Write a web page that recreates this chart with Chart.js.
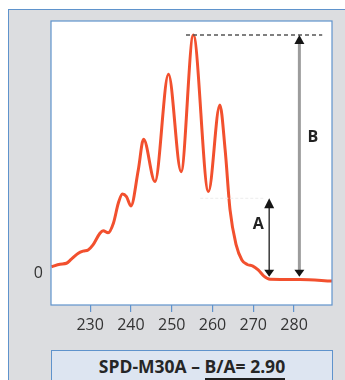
<!DOCTYPE html>
<html>
<head>
<meta charset="utf-8">
<script src="https://cdn.jsdelivr.net/npm/chart.js@4.4.0/dist/chart.umd.min.js"></script>
<style>
  body { margin: 0; background: #fff; overflow: hidden; width: 345px; height: 380px; position: relative; font-family: "Open Sans", sans-serif; }
  #panel { position: absolute; left: 8px; top: 9px; width: 400px; height: 400px; background: #dcdde0; border: 1px solid #5f93cc; }
  #grafico { position: absolute; left: 0; top: 0; }
  #legenda { position: absolute; left: 51px; top: 350px; width: 280px; height: 40px; background: #dde5f1; border: 1px solid #5f93cc;
             text-align: center; font-weight: bold; font-size: 17.5px; line-height: 30px; color: #262626; }
  #legenda span { border-bottom: 2px solid #1e1e1e; }
</style>
</head>
<body>
<div id="panel"></div>
<canvas id="grafico" width="345" height="380"></canvas>
<div id="legenda">SPD-M30A – <span>B/A= 2.90</span></div>
<script>
// Dados do espectro (comprimento de onda x absorbancia relativa)
const comprimentoOnda = [220.5, 222.6, 224.2, 225.4, 227.1, 228.3, 229.5, 230.7, 232.4, 233.2, 234.4, 235.7, 236.9, 237.9, 238.9, 240.0, 241.8, 243.1, 245.9, 249.2, 252.3, 255.3, 259.0, 261.8, 263.1, 264.3, 265.8, 267.2, 268.5, 269.9, 271.2, 272.6, 274.1, 281.5, 289.3];
const absorbancia = [2.6, 3.7, 4.1, 5.8, 8.3, 9.2, 9.7, 11.8, 16.7, 17.8, 16.9, 20.9, 29.3, 33.2, 32.1, 28.2, 43.3, 56.2, 38.4, 83.5, 42.6, 100, 34.2, 70.6, 51.7, 26.5, 11.8, 5.5, 3.6, 2.9, 1.3, -1.3, -2.6, -2.7, -3.4];
const ticksX = [230, 240, 250, 260, 270, 280];
const ticksY = [0];

// Setas A e B (em unidades do grafico)
const setaA = { x: 273.9, topo: 31.4, base: -1.6 };
const setaB = { x: 281.3, topo: 100, base: -1.6 };
const linhaPico = { inicio: 253.5, fim: 286.9, y: 100 };
const linhaA = { inicio: 257.0, fim: 272.9, y: 31.4 };
const rotuloA = { x: 271.2, y: 20.2, texto: 'A' };
const rotuloB = { x: 284.6, y: 57, texto: 'B' };

function desenharSeta(ctx, x, yTopo, yBase, cor, largura, alturaTopo, alturaBase) {
    ctx.save();
    ctx.strokeStyle = cor;
    ctx.lineWidth = largura;
    ctx.beginPath();
    ctx.moveTo(x, yTopo + 4);
    ctx.lineTo(x, yBase - 3);
    ctx.stroke();
    ctx.fillStyle = '#151515';
    ctx.beginPath();
    ctx.moveTo(x, yTopo);
    ctx.lineTo(x - 5, yTopo + alturaTopo);
    ctx.lineTo(x + 5, yTopo + alturaTopo);
    ctx.closePath();
    ctx.fill();
    ctx.beginPath();
    ctx.moveTo(x, yBase);
    ctx.lineTo(x - 5, yBase - alturaBase);
    ctx.lineTo(x + 5, yBase - alturaBase);
    ctx.closePath();
    ctx.fill();
    ctx.restore();
}

const pluginMoldura = {
    id: 'moldura',
    beforeDraw(chart) {
        const { ctx, chartArea: a } = chart;
        ctx.save();
        ctx.fillStyle = '#ffffff';
        ctx.fillRect(a.left, a.top, a.right - a.left, a.bottom - a.top);
        ctx.restore();
    },
    afterDatasetsDraw(chart) {
        const { ctx, chartArea: a, scales } = chart;
        const sx = scales.x, sy = scales.y;
        ctx.save();
        // linha pontilhada clara do nivel A
        ctx.strokeStyle = '#ececec';
        ctx.lineWidth = 1;
        ctx.setLineDash([3, 2]);
        ctx.beginPath();
        ctx.moveTo(sx.getPixelForValue(linhaA.inicio), sy.getPixelForValue(linhaA.y));
        ctx.lineTo(sx.getPixelForValue(linhaA.fim), sy.getPixelForValue(linhaA.y));
        ctx.stroke();
        // linha tracejada do pico
        ctx.strokeStyle = '#555';
        ctx.lineWidth = 1.6;
        ctx.setLineDash([4, 3]);
        ctx.beginPath();
        ctx.moveTo(sx.getPixelForValue(linhaPico.inicio), sy.getPixelForValue(linhaPico.y));
        ctx.lineTo(sx.getPixelForValue(linhaPico.fim), sy.getPixelForValue(linhaPico.y));
        ctx.stroke();
        ctx.setLineDash([]);
        ctx.restore();

        desenharSeta(ctx, sx.getPixelForValue(setaB.x), sy.getPixelForValue(setaB.topo), sy.getPixelForValue(setaB.base), '#9c9c9c', 3, 9, 7);
        desenharSeta(ctx, sx.getPixelForValue(setaA.x), sy.getPixelForValue(setaA.topo), sy.getPixelForValue(setaA.base), '#3a3a3a', 1.5, 10, 7);

        ctx.save();
        ctx.fillStyle = '#222';
        ctx.font = 'bold 16px "Open Sans"';
        ctx.textAlign = 'center';
        ctx.textBaseline = 'middle';
        ctx.fillText(rotuloA.texto, sx.getPixelForValue(rotuloA.x), sy.getPixelForValue(rotuloA.y));
        ctx.fillText(rotuloB.texto, sx.getPixelForValue(rotuloB.x), sy.getPixelForValue(rotuloB.y));
        // moldura da area do grafico
        ctx.strokeStyle = '#5f93cc';
        ctx.lineWidth = 1.2;
        ctx.strokeRect(a.left, a.top, a.right - a.left, a.bottom - a.top);
        ctx.restore();
    }
};

const grafico = new Chart(document.querySelector('#grafico'), {
    type: 'line',
    data: {
        datasets: [{
            data: comprimentoOnda.map((x, i) => ({ x: x, y: absorbancia[i] })),
            borderColor: '#f2502e',
            borderWidth: 3,
            pointRadius: 0,
            cubicInterpolationMode: 'monotone',
            fill: false
        }]
    },
    options: {
        responsive: false,
        animation: false,
        layout: { padding: { top: 21, right: 13, left: 0, bottom: 0 } },
        plugins: { legend: { display: false }, tooltip: { enabled: false } },
        scales: {
            x: {
                type: 'linear',
                min: 220.4,
                max: 289.3,
                afterBuildTicks: (s) => { s.ticks = ticksX.map(v => ({ value: v })); },
                afterFit: (s) => { s.height = 75; },
                border: { display: false },
                grid: { drawOnChartArea: false, drawTicks: true, tickLength: 7, color: '#5f93cc', lineWidth: 1.2 },
                ticks: { color: '#333', padding: 4, font: { family: 'Open Sans', size: 16 }, maxRotation: 0 }
            },
            y: {
                min: -13.45,
                max: 105.9,
                afterBuildTicks: (s) => { s.ticks = ticksY.map(v => ({ value: v })); },
                afterFit: (s) => { s.width = 51; },
                border: { display: false },
                grid: { display: false, drawTicks: false },
                ticks: { color: '#333', padding: 8, font: { family: 'Open Sans', size: 16 } }
            }
        }
    },
    plugins: [pluginMoldura]
});
</script>
</body>
</html>
